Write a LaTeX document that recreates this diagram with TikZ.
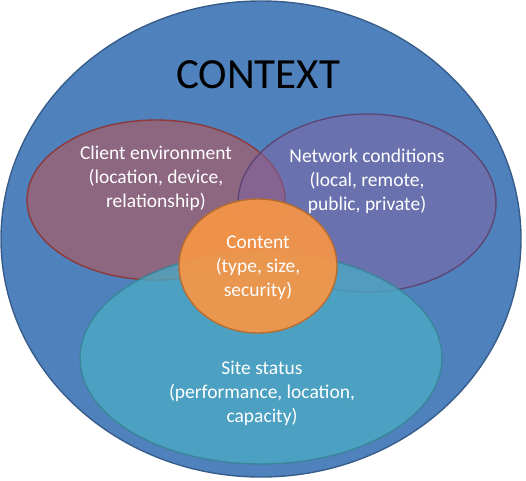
\documentclass[tikz,border=0pt]{standalone}
\usepackage{fontspec}
\setmainfont{Carlito}
\usetikzlibrary{shapes.geometric}
\definecolor{outerfill}{HTML}{4F81BD}
\definecolor{outerline}{HTML}{385D8A}
\definecolor{redfill}{HTML}{C0504D}
\definecolor{redline}{HTML}{8C3A3A}
\definecolor{purplefill}{HTML}{8064A2}
\definecolor{purpleline}{HTML}{5C4776}
\definecolor{tealfill}{HTML}{4BACC6}
\definecolor{tealline}{HTML}{3A8599}
\definecolor{orangefill}{HTML}{F79646}
\definecolor{orangeline}{HTML}{B66D31}
\tikzset{
  blob/.style={ellipse, inner sep=0pt, line width=1.4pt},
  lbl/.style={text=white, align=center, font=\fontsize{19.5}{24}\selectfont}
}
\begin{document}
\begin{tikzpicture}[x=1pt,y=-1pt]
\useasboundingbox (0,0) rectangle (526,480);
\node[blob, draw=outerline, fill=outerfill, minimum width=520pt, minimum height=476pt] (outer) at (261,239) {};
\node[blob, draw=redline, fill=redfill, fill opacity=0.55, minimum width=258pt, minimum height=160pt] (client) at (156,200) {};
\node[blob, draw=purpleline, fill=purplefill, fill opacity=0.55, minimum width=258pt, minimum height=178pt] (network) at (367,203) {};
\node[blob, draw=tealline, fill=tealfill, fill opacity=0.75, minimum width=362pt, minimum height=212pt] (site) at (261,358) {};
\node[blob, draw=orangeline, fill=orangefill, fill opacity=0.92, minimum width=158pt, minimum height=134pt] (content) at (258,266) {};
\node[font=\fontsize{43}{48}\selectfont, text=black] (title) at (258,75) {CONTEXT};
\node[lbl] (tclient) at (156,178) {Client environment\\(location, device,\\relationship)};
\node[lbl] (tnetwork) at (367,181) {Network conditions\\(local, remote,\\public, private)};
\node[lbl] (tcontent) at (258,268) {Content\\(type, size,\\security)};
\node[lbl] (tsite) at (262,393) {Site status\\(performance, location,\\capacity)};
\end{tikzpicture}
\end{document}
